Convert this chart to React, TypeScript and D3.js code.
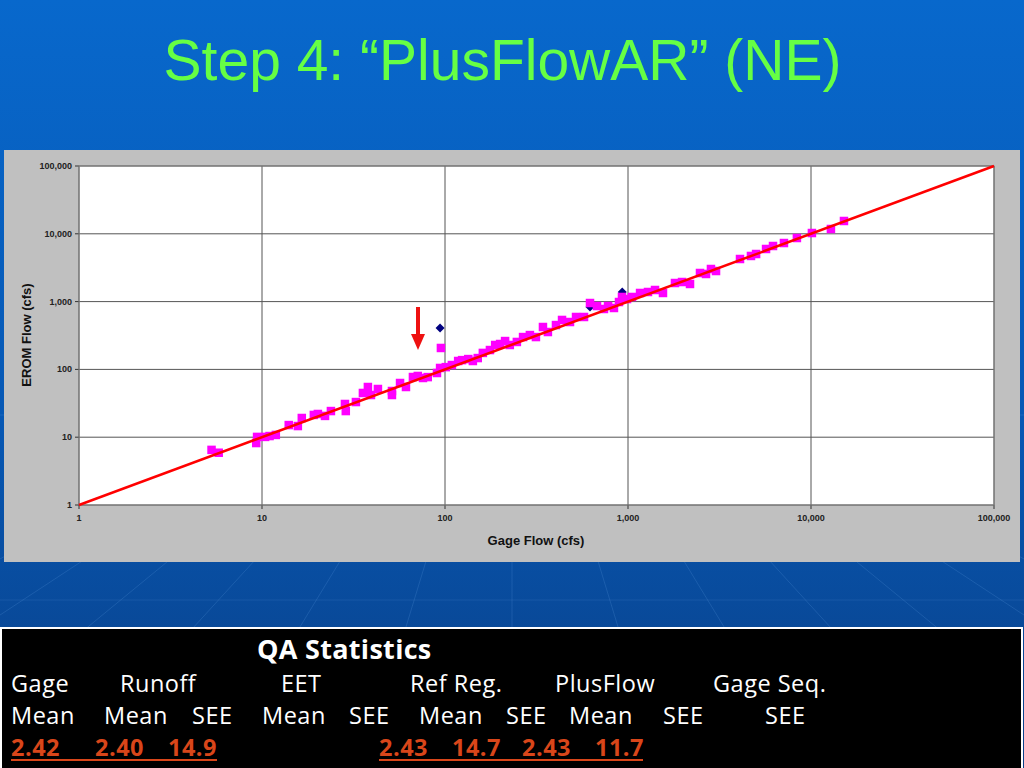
import React from 'react';
import * as d3 from 'd3';

// Gage flow vs EROM flow (cfs), PlusFlowAR result
const gageFlow = [
  5.3, 5.8, 9.3, 9.4, 10.4, 11.0, 11.9, 14.0, 15.7, 16.5, 19.2, 20.2, 22.1, 23.8, 28.4, 28.7,
  32.6, 35.6, 37.9, 39.4, 43, 51.3, 51.3, 56.8, 61.2, 66.8, 71, 75.8, 80.5, 90.4, 94, 95,
  101, 109, 118, 124, 134, 142, 151, 161, 176, 188, 200, 213, 226, 247, 267, 291,
  314, 343, 365, 404, 436, 482, 520, 575, 620, 677, 739, 778, 838, 893, 927, 988,
  1052, 1164, 1286, 1405, 1553, 1806, 1974, 2182, 2474, 2669, 2840, 3027, 4093, 4699, 5012, 5680,
  6200, 7115, 8375, 10115, 12850, 15140,
];
const eromFlow = [
  6.5, 5.9, 8.2, 10.1, 10.1, 10.4, 10.8, 15.1, 14.6, 19.2, 21.3, 22.0, 20.6, 24.3, 30.9, 24.3,
  33.0, 44.9, 55, 41.9, 51.4, 48, 41.9, 63, 55, 77.2, 80, 74.7, 77, 88.5, 105, 207,
  108, 116, 133, 137, 142, 133, 147, 175, 193, 229, 237, 262, 229, 254, 300, 321,
  300, 422, 356, 451, 536, 500, 593, 593, 953, 861, 778, 861, 805, 986, 1170, 1090,
  1170, 1340, 1386, 1483, 1340, 1880, 1945, 1820, 2642, 2555, 3027, 2825, 4249, 4710, 5035, 5970,
  6607, 7311, 8670, 10270, 11770, 15450,
];

// earlier step values still visible behind the new ones
const priorGage = [94, 620, 930];
const priorErom = [407, 830, 1380];

const axisTicks = [1, 10, 100, 1000, 10000, 100000];

const statHeaders = ['Gage', 'Runoff', 'EET', 'Ref Reg.', 'PlusFlow', 'Gage Seq.'];
const statSubHeaders = ['Mean', 'Mean', 'SEE', 'Mean', 'SEE', 'Mean', 'SEE', 'Mean', 'SEE', 'SEE'];
const statValues = ['2.42', '2.40', '14.9', '2.43', '14.7', '2.43', '11.7'];

const headerX = [11, 120, 281, 410, 555, 713];
const subHeaderX = [11, 104, 192, 262, 349, 419, 506, 569, 663, 765];
const valueX = [11, 95, 168, 379, 452, 522, 595];

const W = 1024;
const H = 768;

const App: React.FC = () => {
  const x = d3.scaleLog().domain([1, 100000]).range([79, 994]);
  const y = d3.scaleLog().domain([1, 100000]).range([505, 166]);
  const fmt = d3.format(',d');

  const points = gageFlow.map((g, i) => ({ g, e: eromFlow[i] }));
  const prior = priorGage.map((g, i) => ({ g, e: priorErom[i] }));

  const sq = 8.5;
  const dm = 4.5;

  return (
    <svg width={W} height={H} style={{ position: 'absolute', left: 0, top: 0 }}
      fontFamily="'Liberation Sans', Arial, sans-serif">
      <defs>
        <linearGradient id="bg" x1="0" y1="0" x2="0" y2="1">
          <stop offset="0" stopColor="#0868cc" />
          <stop offset="0.55" stopColor="#0758b4" />
          <stop offset="1" stopColor="#0a3f86" />
        </linearGradient>
      </defs>
      <rect width={W} height={H} fill="url(#bg)" />
      {/* faint perspective lines of the slide background */}
      {d3.range(-6, 7).map(k => (
        <line key={k} x1={512 + k * 40} y1={410} x2={512 + k * 110} y2={640}
          stroke="#6aa4e6" strokeOpacity={0.2} strokeWidth={1} />
      ))}
      <line x1={0} y1={415} x2={W} y2={415} stroke="#6aa4e6" strokeOpacity={0.2} />
      <line x1={0} y1={600} x2={W} y2={600} stroke="#6aa4e6" strokeOpacity={0.15} />

      <text x={502.5} y={80} textAnchor="middle" fontSize={57} fill="#66ff44">
        Step 4: “PlusFlowAR” (NE)
      </text>

      {/* chart panel */}
      <rect x={4} y={150} width={1016} height={412} fill="#c0c0c0" />
      <rect x={79} y={166} width={915} height={339} fill="#ffffff" />

      {axisTicks.map(t => (
        <g key={'g' + t}>
          <line x1={79} x2={994} y1={y(t)} y2={y(t)} stroke="#555" strokeWidth={1} />
          <line x1={x(t)} x2={x(t)} y1={166} y2={505} stroke="#555" strokeWidth={1} />
          <line x1={75} x2={79} y1={y(t)} y2={y(t)} stroke="#333" />
          <line x1={x(t)} x2={x(t)} y1={505} y2={509} stroke="#333" />
          <text x={72} y={y(t) + 3} textAnchor="end" fontSize={9} fontWeight="bold" fill="#222">
            {fmt(t)}
          </text>
          <text x={x(t)} y={521} textAnchor="middle" fontSize={9} fontWeight="bold" fill="#222">
            {fmt(t)}
          </text>
        </g>
      ))}
      <rect x={79} y={166} width={915} height={339} fill="none" stroke="#808080" />

      <text x={536} y={545} textAnchor="middle" fontSize={13} fontWeight="bold" fill="#111">
        Gage Flow (cfs)
      </text>
      <text transform="translate(31,335) rotate(-90)" textAnchor="middle" fontSize={13}
        fontWeight="bold" fill="#111">
        EROM Flow (cfs)
      </text>

      {prior.map((d, i) => (
        <path key={'p' + i}
          d={`M${x(d.g)},${y(d.e) - dm}L${x(d.g) + dm},${y(d.e)}L${x(d.g)},${y(d.e) + dm}L${x(d.g) - dm},${y(d.e)}Z`}
          fill="#000080" />
      ))}
      {points.map((d, i) => (
        <rect key={'s' + i} x={x(d.g) - sq / 2} y={y(d.e) - sq / 2} width={sq} height={sq} fill="#ff00ff" />
      ))}

      <line x1={x(1)} y1={y(1)} x2={x(100000)} y2={y(100000)} stroke="#ff0000" strokeWidth={2.5} />

      {/* arrow pointing at the corrected gage */}
      <line x1={418} y1={307} x2={418} y2={338} stroke="#ee1111" strokeWidth={4} />
      <path d="M411,334L425,334L418,350Z" fill="#ee1111" />

      {/* QA statistics box */}
      <rect x={1} y={628} width={1021} height={142} fill="#000" stroke="#fff" strokeWidth={2} />
      <g fontFamily="'Open Sans', 'Noto Sans', sans-serif" fontSize={23.5} letterSpacing={0.5} fill="#fff">
        <text x={257} y={659} fontWeight="bold" fontSize={27} letterSpacing={0.3}>QA Statistics</text>
        {statHeaders.map((s, i) => (
          <text key={'h' + i} x={headerX[i]} y={692}>{s}</text>
        ))}
        {statSubHeaders.map((s, i) => (
          <text key={'sh' + i} x={subHeaderX[i]} y={724}>{s}</text>
        ))}
        {statValues.map((s, i) => (
          <text key={'v' + i} x={valueX[i]} y={756} fill="#d9461a" fontWeight="bold">{s}</text>
        ))}
      </g>
      <line x1={11} x2={217} y1={760} y2={760} stroke="#d9461a" strokeWidth={2} />
      <line x1={379} x2={643} y1={760} y2={760} stroke="#d9461a" strokeWidth={2} />
    </svg>
  );
};

export default App;
